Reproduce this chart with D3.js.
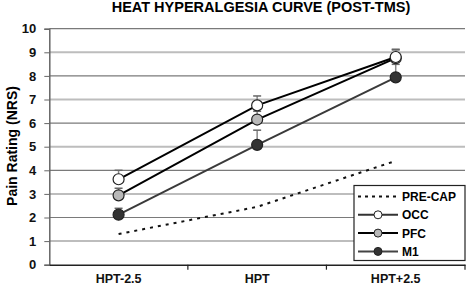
<!DOCTYPE html>
<html>
<head>
<meta charset="utf-8">
<script src="https://d3js.org/d3.v7.min.js"></script>
<style>
  body { margin: 0; background: #fff; }
  text { font-family: "Liberation Sans", Arial, sans-serif; font-weight: bold; }
</style>
</head>
<body>
<div id="chart"></div>
<script>
// data
const categories = ["HPT-2.5", "HPT", "HPT+2.5"];
const yTicks = [0, 1, 2, 3, 4, 5, 6, 7, 8, 9, 10];
const preCap = [1.3, 2.45, 4.4];
const occ = [3.62, 6.75, 8.8];
const occErr = [0.38, 0.4, 0.33];
const pfc = [2.94, 6.15, 8.75];
const pfcErr = [0.3, 0.35, 0.35];
const m1 = [2.12, 5.08, 7.94];
const m1Err = [0.27, 0.62, 0.55];

const W = 466, H = 286;
const margin = { top: 28.7, right: 1, bottom: 21.3, left: 49.3 };
const width = W - margin.left - margin.right;
const height = H - margin.top - margin.bottom;

const svg = d3.select("#chart").append("svg")
  .attr("width", W).attr("height", H);

svg.append("text")
  .attr("x", 261).attr("y", 11.5)
  .attr("text-anchor", "middle")
  .attr("font-size", 14.5)
  .text("HEAT HYPERALGESIA CURVE (POST-TMS)");

const g = svg.append("g").attr("transform", `translate(${margin.left},${margin.top})`);

const x = d3.scaleBand().domain(categories).range([0, width]);
const y = d3.scaleLinear().domain([0, 10]).range([height, 0]);
const cx = d => x(d) + x.bandwidth() / 2;

// gridlines, alternating shades
g.selectAll(".grid").data(yTicks.filter(t => t > 0)).join("line")
  .attr("x1", 0).attr("x2", width)
  .attr("y1", d => y(d)).attr("y2", d => y(d))
  .attr("stroke", d => d % 2 ? "#bdbdbd" : "#7a7a7a")
  .attr("stroke-width", d => d % 2 ? 2 : 1.2);

// y axis
const yAxis = g.append("g").call(d3.axisLeft(y).tickValues(yTicks).tickSize(5).tickPadding(8));
yAxis.select(".domain").attr("stroke", "#666").attr("stroke-width", 1.5);
yAxis.selectAll(".tick line").attr("stroke", "#666");
yAxis.selectAll("text").attr("font-size", 13).attr("fill", "#111");

// x axis
const xAxis = g.append("g").attr("transform", `translate(0,${height})`)
  .call(d3.axisBottom(x).tickSize(0).tickPadding(9));
xAxis.select(".domain").attr("stroke", "#222").attr("stroke-width", 1.5);
xAxis.selectAll("text").attr("font-size", 12.5).attr("fill", "#111");
g.selectAll(".xtick").data(categories).join("line")
  .attr("x1", d => x(d) + x.bandwidth()).attr("x2", d => x(d) + x.bandwidth())
  .attr("y1", height).attr("y2", height + 5)
  .attr("stroke", "#222").attr("stroke-width", 1.2);

const line = d3.line().x((d, i) => cx(categories[i])).y(d => y(d));

// PRE-CAP dotted
g.append("path").datum(preCap)
  .attr("d", line).attr("fill", "none")
  .attr("stroke", "#111").attr("stroke-width", 2)
  .attr("stroke-dasharray", "3,5");

const series = [
  { name: "M1", vals: m1, err: m1Err, stroke: "#3a3a3a", fill: "#333" },
  { name: "PFC", vals: pfc, err: pfcErr, stroke: "#000", fill: "#b8b8b8" },
  { name: "OCC", vals: occ, err: occErr, stroke: "#000", fill: "#fff" }
];

series.forEach(s => {
  // error bars (upward)
  const eb = g.append("g");
  s.vals.forEach((v, i) => {
    const xx = cx(categories[i]);
    eb.append("line").attr("x1", xx).attr("x2", xx)
      .attr("y1", y(v)).attr("y2", y(v + s.err[i]))
      .attr("stroke", "#888").attr("stroke-width", 1.5);
    eb.append("line").attr("x1", xx - 4).attr("x2", xx + 4)
      .attr("y1", y(v + s.err[i])).attr("y2", y(v + s.err[i]))
      .attr("stroke", "#666").attr("stroke-width", 1.5);
  });
});

series.forEach(s => {
  g.append("path").datum(s.vals)
    .attr("d", line).attr("fill", "none")
    .attr("stroke", s.stroke).attr("stroke-width", 2);
  g.selectAll(null).data(s.vals).join("circle")
    .attr("cx", (d, i) => cx(categories[i])).attr("cy", d => y(d))
    .attr("r", 5.5)
    .attr("fill", s.fill).attr("stroke", "#222").attr("stroke-width", 1.2);
});

// y title
svg.append("text")
  .attr("transform", "translate(16.5,146) rotate(-90)")
  .attr("text-anchor", "middle")
  .attr("font-size", 14)
  .text("Pain Rating (NRS)");

// legend
const leg = svg.append("g").attr("transform", "translate(354,185.5)");
leg.append("rect").attr("width", 111).attr("height", 75)
  .attr("fill", "#fff").attr("stroke", "#222").attr("stroke-width", 1.2);
const legItems = [
  { name: "PRE-CAP", dash: true },
  { name: "OCC", stroke: "#333", fill: "#fff" },
  { name: "PFC", stroke: "#000", fill: "#b8b8b8" },
  { name: "M1", stroke: "#444", fill: "#333" }
];
legItems.forEach((d, i) => {
  const yy = 11 + i * 18.3;
  leg.append("line").attr("x1", 4).attr("x2", 44).attr("y1", yy).attr("y2", yy)
    .attr("stroke", d.dash ? "#111" : d.stroke).attr("stroke-width", 2)
    .attr("stroke-dasharray", d.dash ? "3,4" : null);
  if (!d.dash) {
    leg.append("circle").attr("cx", 24).attr("cy", yy).attr("r", 4)
      .attr("fill", d.fill).attr("stroke", "#222").attr("stroke-width", 1);
  }
  leg.append("text").attr("x", 48).attr("y", yy + 4.5)
    .attr("font-size", 12).text(d.name);
});
</script>
</body>
</html>
